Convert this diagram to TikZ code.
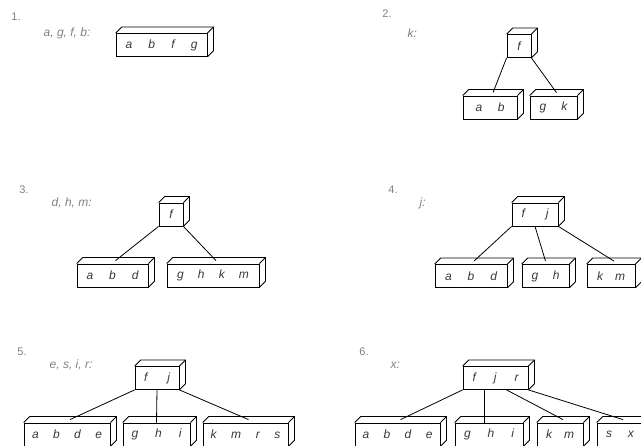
\documentclass[tikz,border=0pt]{standalone}
\usepackage{fontspec}
\setmainfont{Liberation Sans}
\usetikzlibrary{calc}
\definecolor{labelgray}{gray}{0.5}
\definecolor{keygray}{gray}{0.22}
% 앞면 노드 뒤에 윗면과 옆면을 붙인다
\newcommand{\boxback}[1]{%
  \draw (#1.north west) -- ++(6,-6) -- ($(#1.north east)+(6,-6)$)
        -- ($(#1.south east)+(6,-6)$) -- (#1.south east);
  \draw (#1.north east) -- ++(6,-6);}
\begin{document}
\begin{tikzpicture}[x=1pt, y=-1pt, line width=0.8pt,
    block/.style={draw, rectangle, inner sep=0pt, minimum height=23pt, font=\fontsize{12}{14}\selectfont\itshape, text=keygray},
    numlabel/.style={text=labelgray, font=\fontsize{11}{13}\selectfont},
    steplabel/.style={anchor=west, text=labelgray, font=\fontsize{12}{14}\selectfont\itshape}]
  \clip (0,0) rectangle (641,446);
  % 1.
  \node[numlabel] (n1) at (16,17) {1.};
  \node[steplabel] (s1) at (40,33) {a, g, f, b:};
  \node[block, minimum width=91pt] (b1) at (161.5,45) {\makebox[72pt]{a\hfill b\hfill f\hfill g}};
  % 2.
  \node[numlabel] (n2) at (387,14) {2.};
  \node[steplabel] (s2) at (404,33) {k:};
  \node[block, minimum width=24pt] (r2) at (519,46) {f};
  \node[block, minimum width=54pt] (c21) at (490,107.5) {\makebox[29pt]{a\hfill b}};
  \node[block, minimum width=47pt] (c22) at (553.5,107.5) {\makebox[28pt]{g\hfill k}};
  % 3.
  \node[numlabel] (n3) at (24,190) {3.};
  \node[steplabel] (s3) at (48,203) {d, h, m:};
  \node[block, minimum width=24pt] (r3) at (171,214.5) {f};
  \node[block, minimum width=71pt] (c31) at (112.5,275.5) {\makebox[52pt]{a\hfill b\hfill d}};
  \node[block, minimum width=92pt] (c32) at (213,275.5) {\makebox[72pt]{g\hfill h\hfill k\hfill m}};
  % 4.
  \node[numlabel] (n4) at (393,190) {4.};
  \node[steplabel] (s4) at (416,203) {j:};
  \node[block, minimum width=46pt] (r4) at (535,214.5) {\makebox[27pt]{f\hfill j}};
  \node[block, minimum width=72pt] (c41) at (471,276) {\makebox[52pt]{a\hfill b\hfill d}};
  \node[block, minimum width=47pt] (c42) at (545.5,276) {\makebox[28pt]{g\hfill h}};
  \node[block, minimum width=48pt] (c43) at (611,276) {\makebox[28pt]{k\hfill m}};
  % 5.
  \node[numlabel] (n5) at (22,352) {5.};
  \node[steplabel] (s5) at (46,365) {e, s, i, r:};
  \node[block, minimum width=44pt] (r5) at (157,378) {\makebox[26pt]{f\hfill j}};
  \node[block, minimum width=86pt] (c51) at (67,434.5) {\makebox[70pt]{a\hfill b\hfill d\hfill e}};
  \node[block, minimum width=67pt] (c52) at (156.5,434.5) {\makebox[50pt]{g\hfill h\hfill i}};
  \node[block, minimum width=85pt] (c53) at (245.5,434.5) {\makebox[70pt]{k\hfill m\hfill r\hfill s}};
  % 6.
  \node[numlabel] (n6) at (364,352) {6.};
  \node[steplabel] (s6) at (387,365) {x:};
  \node[block, minimum width=65pt] (r6) at (495.5,378) {\makebox[46pt]{f\hfill j\hfill r}};
  \node[block, minimum width=85pt] (c61) at (397.5,434.5) {\makebox[70pt]{a\hfill b\hfill d\hfill e}};
  \node[block, minimum width=68pt] (c62) at (489,434.5) {\makebox[50pt]{g\hfill h\hfill i}};
  \node[block, minimum width=46pt] (c63) at (560,434.5) {\makebox[28pt]{k\hfill m}};
  \node[block, minimum width=46pt] (c64) at (620,434.5) {\makebox[28pt]{s\hfill x}};
  \foreach \b in {b1,r2,c21,c22,r3,c31,c32,r4,c41,c42,c43,r5,c51,c52,c53,r6,c61,c62,c63,c64}
    {\boxback{\b}}
  % 연결선
  \draw (r2.south west) -- ($(c21.north)+(3,-3)$);
  \draw (r2.south east) -- ($(c22.north)+(3,-3)$);
  \draw (r3.south west) -- ($(c31.north)+(3,-3)$);
  \draw (r3.south east) -- ($(c32.north)+(3,-3)$);
  \draw (r4.south west) -- ($(c41.north)+(3,-3)$);
  \draw (r4.south) -- ($(c42.north)+(0,-3)$);
  \draw (r4.south east) -- ($(c43.north)+(3,-3)$);
  \draw (r5.south west) -- ($(c51.north)+(3,-3)$);
  \draw (r5.south) -- (c52.north);
  \draw (r5.south east) -- ($(c53.north)+(3,-3)$);
  \draw (r6.south west) -- ($(c61.north)+(3,-3)$);
  \draw ($(r6.south west)!0.333!(r6.south east)$) -- (c62.north -| {$(r6.south west)!0.333!(r6.south east)$});
  \draw ($(r6.south west)!0.667!(r6.south east)$) -- ($(c63.north)+(3,-3)$);
  \draw (r6.south east) -- ($(c64.north)+(3,-3)$);
\end{tikzpicture}
\end{document}
